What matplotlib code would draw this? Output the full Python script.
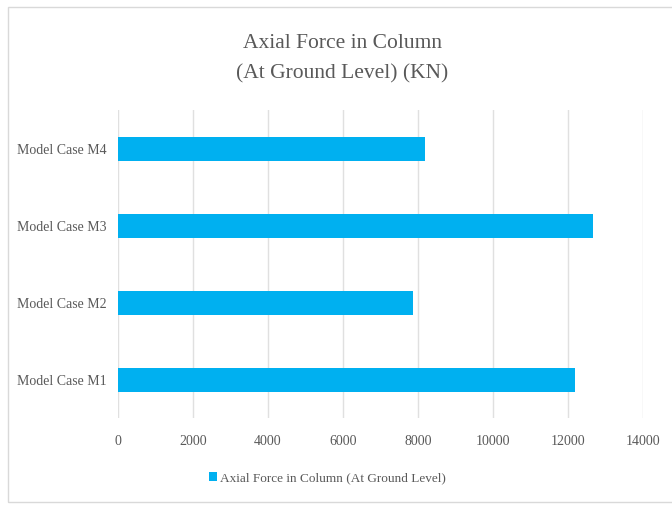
import matplotlib.pyplot as plt
from matplotlib.patches import Rectangle

casos = ['Model Case M1', 'Model Case M2', 'Model Case M3', 'Model Case M4']
forca_axial = [12190, 7870, 12660, 8190]
ticks_x = [0, 2000, 4000, 6000, 8000, 10000, 12000, 14000]

plt.rcParams['font.family'] = ['Liberation Serif', 'DejaVu Serif']

fig = plt.figure(figsize=(6.72, 5.05), dpi=100)
ax = fig.add_axes([0.1756, 0.172, 0.957 - 0.1756, 0.61])

# borda externa do grafico
fig.patches.append(Rectangle((0.012, 0.005), 0.99, 0.982, transform=fig.transFigure,
                             fill=False, edgecolor='#d9d9d9', linewidth=1))

ax.barh(range(len(casos)), forca_axial, height=0.31, color='#00b0f0',
        label='Axial Force in Column (At Ground Level)', zorder=3)

ax.set_xlim(0, 14000)
ax.set_ylim(-0.5, 3.5)
ax.set_xticks(ticks_x)
ax.set_xticklabels([str(t) for t in ticks_x])
ax.set_yticks(range(len(casos)))
ax.set_yticklabels(casos)
ax.tick_params(axis='both', length=0, labelsize=10, colors='#595959', pad=8)
ax.tick_params(axis='x', pad=12)
ax.grid(True, axis='x', color='#e0e0e0', linewidth=1, zorder=0)
for s in ax.spines.values():
	s.set_visible(False)

fig.text(0.509, 0.913, 'Axial Force in Column', ha='center', va='center', fontsize=15.5, color='#595959')
fig.text(0.509, 0.853, '(At Ground Level) (KN)', ha='center', va='center', fontsize=15.5, color='#595959')

fig.legend(loc='center', bbox_to_anchor=(0.487, 0.053), frameon=False, fontsize=9.5,
           handlelength=0.6, handleheight=0.6, handletextpad=0.2, labelcolor='#595959')

fig.savefig('out.png', dpi=100)
